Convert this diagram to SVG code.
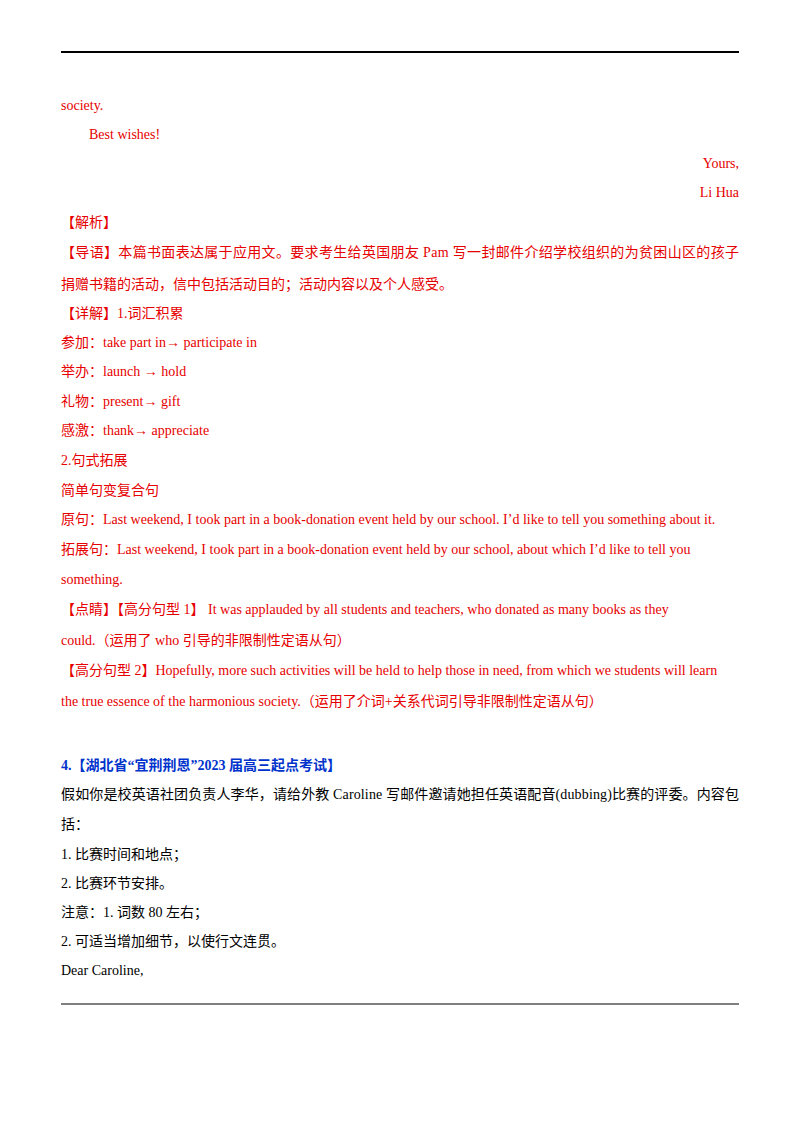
<svg xmlns="http://www.w3.org/2000/svg" width="800" height="1132" viewBox="0 0 800 1132">
<style>
text{font-family:"Liberation Serif","Noto Sans CJK SC",serif;font-size:14px}
.r{fill:#e60000}
.k{fill:#000}
.b{fill:#0033cc;font-weight:bold}
</style>
<rect width="800" height="1132" fill="#fff"/>
<line x1="61" y1="52" x2="739" y2="52" stroke="#000" stroke-width="2"/>
<line x1="61" y1="1004" x2="739" y2="1004" stroke="#000" stroke-width="1"/>
<g class="r">
<text x="61" y="110" class="r">society.</text>
<text x="89" y="139" class="r">Best wishes!</text>
<text x="739" y="168" class="r" text-anchor="end">Yours,</text>
<text x="739" y="197" class="r" text-anchor="end">Li Hua</text>
<text x="61" y="227" class="r">【解析】</text>
<text x="61" y="257" class="r" textLength="678" lengthAdjust="spacing">【导语】本篇书面表达属于应用文。要求考生给英国朋友 Pam 写一封邮件介绍学校组织的为贫困山区的孩子</text>
<text x="61" y="289" class="r">捐赠书籍的活动，信中包括活动目的；活动内容以及个人感受。</text>
<text x="61" y="318" class="r">【详解】1.词汇积累</text>
<text x="61" y="347" class="r">参加：take part in→ participate in</text>
<text x="61" y="376" class="r">举办：launch →    hold</text>
<text x="61" y="406" class="r">礼物：present→ gift</text>
<text x="61" y="435" class="r">感激：thank→ appreciate</text>
<text x="61" y="465" class="r">2.句式拓展</text>
<text x="61" y="495" class="r">简单句变复合句</text>
<text x="61" y="524" class="r">原句：Last weekend, I took part in a book-donation event held by our school. I’d like to tell you something about it.</text>
<text x="61" y="554" class="r">拓展句：Last weekend, I took part in a book-donation event held by our school, about which I’d like to tell you</text>
<text x="61" y="584" class="r">something.</text>
<text x="61" y="614" class="r">【点睛】【高分句型 1】    It was applauded by all students and teachers, who donated as many books as they</text>
<text x="61" y="645" class="r">could.（运用了 who 引导的非限制性定语从句）</text>
<text x="61" y="675" class="r">【高分句型 2】Hopefully, more such activities will be held to help those in need, from which we students will learn</text>
<text x="61" y="706" class="r">the true essence of the harmonious society.（运用了介词+关系代词引导非限制性定语从句）</text>
</g>
<text x="61" y="770" class="b">4.【湖北省“宜荆荆恩”2023 届高三起点考试】</text>
<g class="k">
<text x="61" y="799" textLength="678" lengthAdjust="spacing">假如你是校英语社团负责人李华，请给外教 Caroline 写邮件邀请她担任英语配音(dubbing)比赛的评委。内容包</text>
<text x="61" y="829">括：</text>
<text x="61" y="859">1. 比赛时间和地点；</text>
<text x="61" y="888">2. 比赛环节安排。</text>
<text x="61" y="917">注意：1. 词数 80 左右；</text>
<text x="61" y="946">2. 可适当增加细节，以使行文连贯。</text>
<text x="61" y="975">Dear Caroline,</text>
</g>
</svg>
